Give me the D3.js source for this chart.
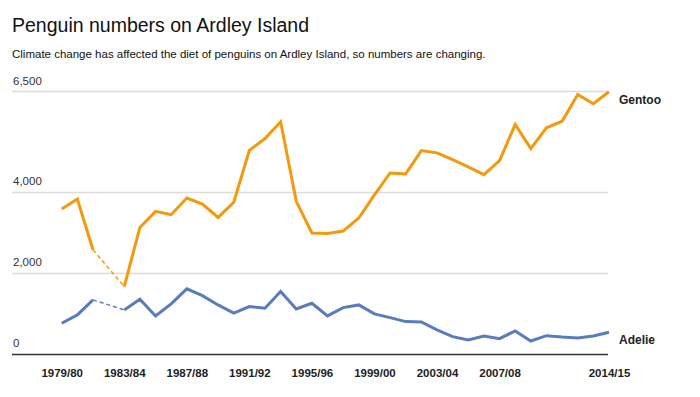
<!DOCTYPE html>
<html>
<head>
<meta charset="utf-8">
<script src="https://cdn.jsdelivr.net/npm/d3@7"></script>
<style>
  html, body { margin: 0; padding: 0; background: #fff; }
  svg { display: block; font-family: "Liberation Sans", Arial, Helvetica, sans-serif; }
</style>
</head>
<body>
<svg id="chart" width="700" height="397"></svg>
<script>
const seasons = ["1979/80","1980/81","1981/82","1982/83","1983/84","1984/85","1985/86","1986/87","1987/88","1988/89",
  "1989/90","1990/91","1991/92","1992/93","1993/94","1994/95","1995/96","1996/97","1997/98","1998/99",
  "1999/00","2000/01","2001/02","2002/03","2003/04","2004/05","2005/06","2006/07","2007/08","2008/09",
  "2009/10","2010/11","2011/12","2012/13","2013/14","2014/15"];
const gentoo = [3578, 3826, 2568, null, 1658, 3122, 3519, 3437, 3851, 3702,
  3370, 3742, 5032, 5323, 5737, 3767, 2983, 2973, 3032, 3355,
  3926, 4471, 4447, 5025, 4968, 4801, 4620, 4429, 4777, 5670,
  5074, 5588, 5752, 6414, 6184, 6481];
const adelie = [749, 955, 1328, null, 1079, 1345, 930, 1228, 1600, 1434,
  1203, 998, 1162, 1121, 1534, 1104, 1245, 930, 1137, 1203,
  980, 889, 790, 782, 583, 417, 335, 434, 367, 558,
  310, 442, 409, 385, 434, 526];
const xTickLabels = ["1979/80","1983/84","1987/88","1991/92","1995/96","1999/00","2003/04","2007/08","2014/15"];
const yTicks = [0, 2000, 4000, 6500];
const seriesNames = ["Gentoo", "Adelie"];
const seriesColors = ["#f39a0c", "#5a7cbd"];

const svg = d3.select("#chart");

svg.append("text").attr("x", 12).attr("y", 32)
  .attr("font-size", 19.5).attr("fill", "#111")
  .text("Penguin numbers on Ardley Island");
svg.append("text").attr("x", 12).attr("y", 57.5)
  .attr("font-size", 11.5).attr("fill", "#111")
  .text("Climate change has affected the diet of penguins on Ardley Island, so numbers are changing.");

const x = d3.scalePoint().domain(seasons).range([61.7, 609]);
const y = d3.scaleLinear().domain([0, 6500]).range([353.5, 91]);

// gridlines
const grid = svg.append("g");
yTicks.forEach(t => {
  grid.append("line")
    .attr("x1", 12).attr("x2", 608)
    .attr("y1", Math.round(y(t)) + 0.5).attr("y2", Math.round(y(t)) + 0.5)
    .attr("stroke", t === 0 ? "#333" : "#dcdcdc")
    .attr("stroke-width", 1.3);
  grid.append("text")
    .attr("x", 13).attr("y", y(t) - 6.5)
    .attr("font-size", 11.5).attr("fill", "#333")
    .text(d3.format(",")(t));
});

// x axis
const xAxis = d3.axisBottom(x).tickValues(xTickLabels).tickSize(0).tickPadding(0);
const gx = svg.append("g").attr("transform", "translate(0,369)").call(xAxis);
gx.select(".domain").remove();
gx.selectAll("text")
  .attr("font-size", 11.5).attr("font-weight", "bold").attr("fill", "#222")
  .attr("font-family", "Liberation Sans, Arial, sans-serif");

const seriesData = [gentoo, adelie];
const line = d3.line()
  .defined(d => d.v !== null)
  .x(d => x(d.s)).y(d => y(d.v));

seriesData.forEach((vals, k) => {
  const pts = vals.map((v, i) => ({ s: seasons[i], v }));
  const gaps = [];
  for (let i = 0; i < pts.length; i++) {
    if (pts[i].v === null) {
      let a = i - 1, b = i + 1;
      while (b < pts.length && pts[b].v === null) b++;
      if (a >= 0 && b < pts.length) gaps.push([pts[a], pts[b]]);
    }
  }
  gaps.forEach(g => {
    svg.append("path")
      .attr("d", d3.line().x(d => x(d.s)).y(d => y(d.v))(g))
      .attr("fill", "none").attr("stroke", seriesColors[k])
      .attr("stroke-width", 1.5).attr("stroke-dasharray", "4,3");
  });
  svg.append("path")
    .attr("d", line(pts))
    .attr("fill", "none").attr("stroke", seriesColors[k])
    .attr("stroke-width", 3).attr("stroke-linejoin", "miter");

  svg.append("text")
    .attr("x", 619)
    .attr("y", k === 0 ? 103.5 : 343.5)
    .attr("font-size", 12).attr("font-weight", "bold").attr("fill", "#222")
    .text(seriesNames[k]);
});
</script>
</body>
</html>
